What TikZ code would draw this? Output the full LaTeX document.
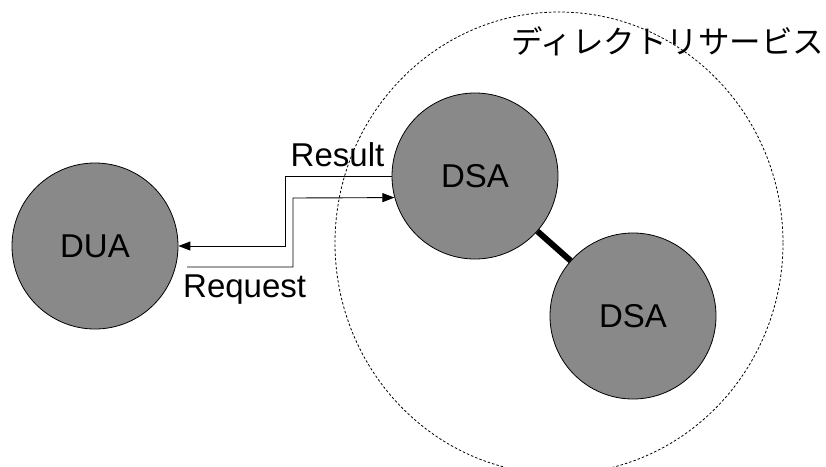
\documentclass[tikz,border=0pt]{standalone}
\usepackage{fontspec}
\setmainfont{Liberation Sans}
\newfontfamily\jpfont{Noto Sans CJK JP}
\usetikzlibrary{arrows.meta}
\definecolor{agentgray}{RGB}{137,137,137}
\begin{document}
\begin{tikzpicture}[x=1pt,y=-1pt,
  agent/.style={circle,draw=black,line width=0.8pt,fill=agentgray,minimum size=166pt,inner sep=0pt,font=\fontsize{33}{36}\selectfont},
  msg/.style={line width=0.9pt,-{Triangle[length=12pt,width=9pt]}},
  lbl/.style={inner sep=0pt,font=\fontsize{33}{36}\selectfont},
  boundary/.style={line width=0.8pt,dash pattern=on 2.5pt off 2pt}]
\useasboundingbox (0,0) rectangle (826,466);
\draw[boundary] (559,243) ellipse [x radius=224, y radius=231];
\node[agent] (dua) at (95,246) {DUA};
\node[agent] (dsa1) at (475,176) {DSA};
\node[agent] (dsa2) at (633,316) {DSA};
\draw[line width=6pt] (dsa1) -- (dsa2);
\coordinate (reqstart) at (187,267);
\draw[msg] (dsa1.west) -- (285,176) -- (285,246) -- (dua.east);
\draw[msg] (reqstart) -- (293,267) -- (293,198) -- (dsa1.195.4);
\node[lbl,anchor=base] (res) at (337.5,166) {Result};
\node[lbl,anchor=base west] (req) at (183,297) {Request};
\node[inner sep=0pt,anchor=west,font=\jpfont\fontsize{31.5}{34}\selectfont] (ds) at (511,41) {ディレクトリサービス};
\end{tikzpicture}
\end{document}
